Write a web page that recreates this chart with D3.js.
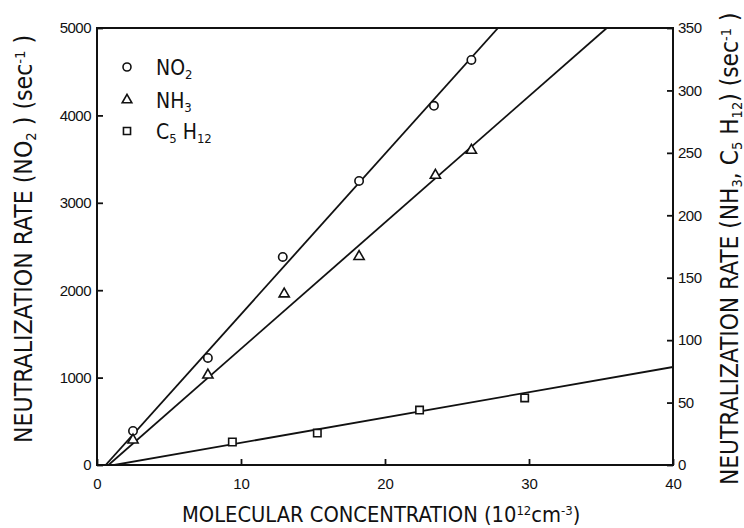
<!DOCTYPE html>
<html><head><meta charset="utf-8">
<script src="https://cdn.jsdelivr.net/npm/d3@7/dist/d3.min.js"></script>
<style>
body{margin:0;background:#fff;}
svg text{font-family:"Liberation Sans Narrow","DejaVu Sans Condensed","Liberation Sans",sans-serif;fill:#111;}
</style></head>
<body><svg id="c" width="744" height="528"></svg>
<script>
// Data (x in 10^12 cm^-3)
const no2X = [2.5, 7.7, 12.9, 18.2, 23.4, 26.0];
const no2Y = [390, 1225, 2380, 3250, 4110, 4635];          // left axis, sec^-1
const nh3X = [2.5, 7.7, 13.0, 18.2, 23.5, 26.0];
const nh3Y = [20, 72, 137, 167, 232, 252];                  // right axis, sec^-1
const c5X = [9.4, 15.3, 22.4, 29.7];
const c5Y = [18.4, 25.6, 44, 53.7];                         // right axis, sec^-1
// fitted lines (endpoints)
const no2FitX = [0.6, 27.85], no2FitY = [0, 5000];
const nh3FitX = [0.8, 35.4], nh3FitY = [0, 350];
const c5FitX = [1.2, 40], c5FitY = [0, 78.5];
const xTicks = [0, 10, 20, 30, 40];
const yLeftTicks = [0, 1000, 2000, 3000, 4000, 5000];
const yRightTicks = [0, 50, 100, 150, 200, 250, 300, 350];

const svg = d3.select("#c");
const L = 97, R = 673, T = 28, B = 465;
const x = d3.scaleLinear().domain([0, 40]).range([L, R]);
const yL = d3.scaleLinear().domain([0, 5000]).range([B, T]);
const yR = d3.scaleLinear().domain([0, 350]).range([B, T]);

// frame
svg.append("rect").attr("x", L).attr("y", T).attr("width", R - L).attr("height", B - T)
  .attr("fill", "none").attr("stroke", "#111").attr("stroke-width", 2);

function styleAxis(g, fs) {
  g.select(".domain").remove();
  g.selectAll(".tick line").attr("stroke", "#111").attr("stroke-width", 1.8);
  g.selectAll(".tick text").attr("fill", "#111").style("font-size", fs + "px")
    .style("font-family", '"Liberation Sans","DejaVu Sans",sans-serif');
}
const gx = svg.append("g").attr("transform", `translate(0,${B})`)
  .call(d3.axisBottom(x).tickValues(xTicks).tickSize(-6).tickPadding(10).tickFormat(d3.format("d")));
styleAxis(gx, 15);
gx.selectAll(".tick text").attr("dy", "0.9em");
const gl = svg.append("g").attr("transform", `translate(${L},0)`)
  .call(d3.axisLeft(yL).tickValues(yLeftTicks).tickSize(-6).tickPadding(6).tickFormat(d3.format("d")));
styleAxis(gl, 15);
gl.selectAll(".tick text").style("letter-spacing", "-0.5px");
const gr = svg.append("g").attr("transform", `translate(${R},0)`)
  .call(d3.axisRight(yR).tickValues(yRightTicks).tickSize(-6).tickPadding(5).tickFormat(d3.format("d")));
styleAxis(gr, 15);
gr.selectAll(".tick text").style("letter-spacing", "-0.5px");

// clip
svg.append("clipPath").attr("id", "clip").append("rect")
  .attr("x", L).attr("y", T).attr("width", R - L).attr("height", B - T);
const plot = svg.append("g").attr("clip-path", "url(#clip)");

function fit(xs, ys, ys2) {
  const pts = xs.map((v, i) => [v, ys[i]]);
  plot.append("path").datum(pts)
    .attr("d", d3.line().x(d => x(d[0])).y(d => ys2(d[1])))
    .attr("fill", "none").attr("stroke", "#111").attr("stroke-width", 1.8);
}
fit(no2FitX, no2FitY, yL);
fit(nh3FitX, nh3FitY, yR);
fit(c5FitX, c5FitY, yR);

const sym = (type, size) => d3.symbol().type(type).size(size);
function pts(xs, ys, ys2, type, size) {
  svg.append("g").selectAll("path").data(xs).join("path")
    .attr("transform", (d, i) => `translate(${x(d)},${ys2(ys[i])})`)
    .attr("d", sym(type, size)())
    .attr("fill", "#fff").attr("stroke", "#111").attr("stroke-width", 1.6);
}
pts(no2X, no2Y, yL, d3.symbolCircle, 55);
pts(nh3X, nh3Y, yR, d3.symbolTriangle, 45);
pts(c5X, c5Y, yR, d3.symbolSquare, 55);

// legend
const leg = svg.append("g");
const legItems = [
  {t: d3.symbolCircle, s: 50, y: 67, parts: [["NO", 0], ["2", 1]]},
  {t: d3.symbolTriangle, s: 40, y: 100, parts: [["NH", 0], ["3", 1]]},
  {t: d3.symbolSquare, s: 50, y: 131, parts: [["C", 0], ["5", 1], [" H", 0], ["12", 1]]}
];
legItems.forEach(it => {
  leg.append("path").attr("transform", `translate(127,${it.y})`).attr("d", sym(it.t, it.s)())
    .attr("fill", "#fff").attr("stroke", "#111").attr("stroke-width", 1.6);
  const tx = leg.append("text").attr("x", 156).attr("y", it.y + 8).style("font-size", "21px");
  it.parts.forEach(p => {
    const ts = tx.append("tspan").text(p[0]);
    if (p[1]) ts.style("font-size", "13px").attr("dy", 4); else ts.attr("dy", tx.selectAll("tspan").size() > 1 ? -4 : 0);
  });
});

// axis titles: font size scaled to fit the reference's length
function title(parent, parts, fs, target) {
  const t = parent.append("text").style("font-size", fs + "px");
  let shift = 0;
  const subs = [];
  parts.forEach(p => {
    const ts = t.append("tspan").text(p[0]);
    const want = p[1] === "sub" ? 4 : p[1] === "sup" ? -7 : 0;
    if (p[1]) subs.push(ts);
    ts.attr("dy", want - shift); shift = want;
  });
  subs.forEach(s => s.style("font-size", Math.round(fs * 0.6) + "px"));
  const w = t.node().getComputedTextLength();
  const f2 = fs * target / w;
  t.style("font-size", f2 + "px");
  subs.forEach(s => s.style("font-size", (f2 * 0.6) + "px"));
  return t;
}
title(svg.append("g").attr("transform", "translate(182,522)"),
  [["MOLECULAR CONCENTRATION (10"], ["12", "sup"], ["cm"], ["-3", "sup"], [")"]], 22, 398);
title(svg.append("g").attr("transform", "translate(32,443) rotate(-90)"),
  [["NEUTRALIZATION RATE (NO"], ["2", "sub"], [" )  (sec"], ["-1", "sup"], [" )"]], 22, 408);
title(svg.append("g").attr("transform", "translate(738,485) rotate(-90)"),
  [["NEUTRALIZATION RATE (NH"], ["3", "sub"], [", C"], ["5", "sub"], [" H"], ["12", "sub"], [")  (sec"], ["-1", "sup"], [" )"]], 22, 472);
</script></body></html>
